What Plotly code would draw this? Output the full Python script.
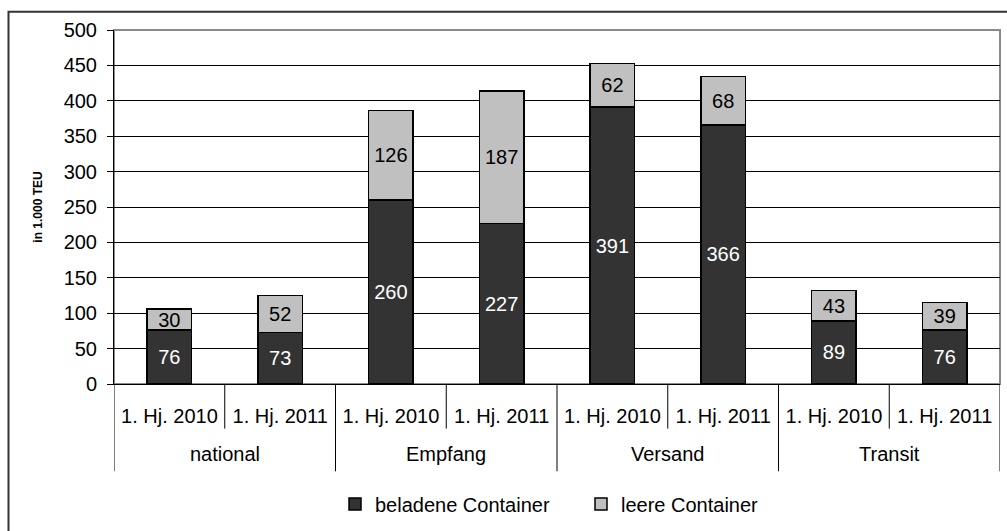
import plotly.graph_objects as go

# Umschlag nach Verkehrsart, Halbjahresvergleich (in 1.000 TEU)
groups = ["national", "Empfang", "Versand", "Transit"]
periods = ["1. Hj. 2010", "1. Hj. 2011"]
beladen = [76, 73, 260, 227, 391, 366, 89, 76]
leer = [30, 52, 126, 187, 62, 68, 43, 39]
y_ticks = [0, 50, 100, 150, 200, 250, 300, 350, 400, 450, 500]

FONT = "Arial, Liberation Sans, sans-serif"
FS = 20
W, H = 1007, 531
ML, MR, MT, MB = 114, 7, 30, 144
PW, PH = W - ML - MR, H - MT - MB


def px_x(p):
    return (p - ML) / PW


def px_y(p):
    return (H - MB - p) / PH


# one slot per (group, period) pair on the category axis
slots = [(g, p) for g in groups for p in periods]
pos = list(range(len(slots)))
sub_labels = [p for _, p in slots]

fig = go.Figure()
fig.add_trace(go.Bar(
    x=pos, y=beladen, name="beladene Container",
    marker=dict(color="#333333", line=dict(color="#000000", width=1.5)),
    text=[str(v) for v in beladen], textposition="inside",
    insidetextanchor="middle", constraintext="none",
    textfont=dict(color="white", size=FS, family=FONT),
))
fig.add_trace(go.Bar(
    x=pos, y=leer, name="leere Container",
    marker=dict(color="#C0C0C0", line=dict(color="#000000", width=1.5)),
    text=[str(v) for v in leer], textposition="inside",
    insidetextanchor="middle", constraintext="none",
    textfont=dict(color="black", size=FS, family=FONT),
))

# Plot area frame (grey) and outer chart frame
fig.add_shape(type="rect", xref="paper", yref="paper", x0=0, x1=1, y0=0, y1=1,
              line=dict(color="#8a8a8a", width=2), layer="below")
fig.add_shape(type="rect", xref="paper", yref="paper",
              x0=px_x(8.5), x1=px_x(1012), y0=px_y(545), y1=px_y(11.5),
              line=dict(color="#333333", width=2))

# Category axis separators: short between periods, long between groups
n_per = len(periods)
for gi, g in enumerate(groups):
    start = gi * n_per - 0.5
    fig.add_shape(type="line", xref="x", yref="paper", x0=start, x1=start,
                  y0=0, y1=px_y(475), line=dict(color="black", width=1))
    for k in range(1, n_per):
        b = start + k
        fig.add_shape(type="line", xref="x", yref="paper", x0=b, x1=b,
                      y0=0, y1=px_y(432), line=dict(color="black", width=1))
    fig.add_annotation(x=start + n_per / 2, y=px_y(458), xref="x", yref="paper",
                       text=g, showarrow=False, yanchor="middle",
                       font=dict(size=FS, family=FONT, color="black"))
end = len(slots) - 0.5
fig.add_shape(type="line", xref="x", yref="paper", x0=end, x1=end,
              y0=0, y1=px_y(475), line=dict(color="black", width=1))

fig.update_layout(
    width=W, height=H,
    margin=dict(l=ML, r=MR, t=MT, b=MB),
    barmode="stack", bargap=0.6,
    plot_bgcolor="white", paper_bgcolor="white",
    font=dict(family=FONT, size=FS, color="black"),
    showlegend=True,
    legend=dict(orientation="h", x=px_x(581), xanchor="center", y=px_y(508),
                yanchor="middle", traceorder="normal",
                font=dict(size=FS), entrywidth=201, entrywidthmode="pixels"),
    xaxis=dict(range=[-0.5, len(slots) - 0.5], tickvals=pos, ticktext=sub_labels,
               showline=True, linecolor="black", linewidth=1, ticks="",
               showgrid=False, zeroline=False, ticklabelstandoff=14,
               tickfont=dict(size=FS)),
    yaxis=dict(range=[0, 500], tickvals=y_ticks, showline=True, linecolor="black",
               linewidth=1, ticks="outside", ticklen=6, tickcolor="black",
               showgrid=True, gridcolor="black", gridwidth=1, zeroline=False,
               tickfont=dict(size=FS), ticklabelstandoff=6,
               title=dict(text="<b>in 1.000 TEU</b>", font=dict(size=12), standoff=18)),
)

fig.write_html("out.html")
